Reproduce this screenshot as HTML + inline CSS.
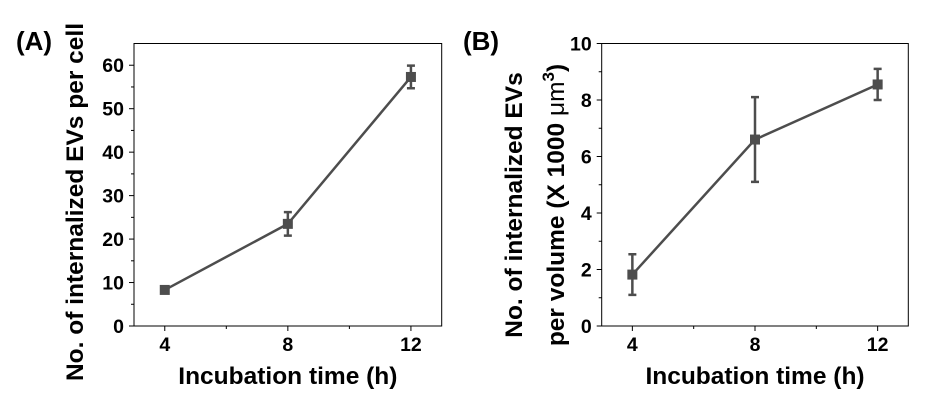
<!DOCTYPE html>
<html><head><meta charset="utf-8"><style>
body{margin:0;background:#fff;}
svg{display:block;font-family:"Liberation Sans",Arial,sans-serif;font-weight:bold;}
</style></head><body>
<svg id="chart" width="927" height="404" viewBox="0 0 927 404"></svg>
<script>
const xCats = [4, 8, 12];
const xTicks = [4, 8, 12];
const aValues = [8.3, 23.5, 57.3];
const aErrors = [0.7, 2.7, 2.6];
const aYTicks = [0, 10, 20, 30, 40, 50, 60];
const bValues = [1.82, 6.6, 8.55];
const bErrors = [0.72, 1.5, 0.55];
const bYTicks = [0, 2, 4, 6, 8, 10];

const NS = "http://www.w3.org/2000/svg";
const svg = document.getElementById("chart");
function mk(tag, attrs, parent, text){
  const e = document.createElementNS(NS, tag);
  for (const k in attrs) e.setAttribute(k, attrs[k]);
  if (text !== undefined) e.textContent = text;
  (parent || svg).appendChild(e);
  return e;
}
function panel(cfg){
  const g = mk("g", {});
  
  
  const L = cfg.left, R = cfg.right, T = 43.5, B = 326;
  const xs = v => L + (v - 3) / 10 * (R - L);
  const ys = v => B - (v - cfg.ymin) / (cfg.ymax - cfg.ymin) * (B - T);
  const frame = mk("rect", {x:L, y:T, width:R-L, height:B-T, fill:"none", stroke:"#000", "stroke-width":1}, g);
  
  
  cfg.yticks.forEach(v => {
    const y = ys(v);
    mk("line", {x1:L-5, x2:L, y1:y, y2:y, stroke:"#000"}, g);
    const t = mk("text", {x:L-10, y:y+7, "text-anchor":"end", "font-size":19.5, fill:"#000"}, g, v);
    
    
  });
  for (let i = 0; i < cfg.yticks.length - 1; i++) {
    const y = ys((cfg.yticks[i] + cfg.yticks[i+1]) / 2);
    mk("line", {x1:L-3, x2:L, y1:y, y2:y, stroke:"#000"}, g);
  }
  xTicks.forEach(v => {
    const x = xs(v);
    mk("line", {x1:x, x2:x, y1:B, y2:B+5, stroke:"#000"}, g);
    const t = mk("text", {x:x, y:351, "text-anchor":"middle", "font-size":19.5, fill:"#000"}, g, v);
    
    
  });
  [6, 10].forEach(v => mk("line", {x1:xs(v), x2:xs(v), y1:B, y2:B+3, stroke:"#000"}, g));
  const pts = xCats.map((c, i) => xs(c) + "," + ys(cfg.vals[i])).join(" ");
  const line = mk("polyline", {points:pts, fill:"none", stroke:"#4d4d4d", "stroke-width":2.5}, g);
  
  
  xCats.forEach((c, i) => {
    const x = xs(c), y = ys(cfg.vals[i]);
    const y1 = ys(cfg.vals[i] + cfg.errs[i]), y2 = ys(cfg.vals[i] - cfg.errs[i]);
    const eb = mk("path", {d:`M${x},${y1}V${y2}M${x-4},${y1}H${x+4}M${x-4},${y2}H${x+4}`, stroke:"#4d4d4d", "stroke-width":2.5, fill:"none"}, g);
    
    
    const m = mk("rect", {x:x-5, y:y-5, width:10, height:10, fill:"#4d4d4d"}, g);
    
    
  });
  const xt = mk("text", {x:(L+R)/2, y:384, "text-anchor":"middle", "font-size":24.5, fill:"#000"}, g, "Incubation time (h)");
  
  
  const pl = mk("text", {x:cfg.labX, y:50, "font-size":26, fill:"#000"}, g, cfg.label);
  
  
  return g;
}
panel({name:"panel-a", left:134, right:441.7, ymin:0, ymax:65, yticks:aYTicks, vals:aValues, errs:aErrors, label:"(A)", labX:16});
panel({name:"panel-b", left:601.7, right:908.3, ymin:0, ymax:10, yticks:bYTicks, vals:bValues, errs:bErrors, label:"(B)", labX:463});

const ta = mk("text", {transform:"translate(83,202) rotate(-90)", "text-anchor":"middle", "font-size":24.5, fill:"#000"}, null, "No. of internalized EVs per cell");


const tb1 = mk("text", {transform:"translate(522,205) rotate(-90)", "text-anchor":"middle", "font-size":24.5, fill:"#000"}, null, "No. of internalized EVs");


const tb2 = mk("text", {transform:"translate(564,205) rotate(-90)", "text-anchor":"middle", "font-size":24.5, fill:"#000"}, null);


mk("tspan", {}, tb2, "per volume (X 1000 ");
mk("tspan", {"font-weight":"normal"}, tb2, "μm");
mk("tspan", {dy:-10, "font-size":17}, tb2, "3");
mk("tspan", {dy:10}, tb2, ")");
</script>
</body></html>
